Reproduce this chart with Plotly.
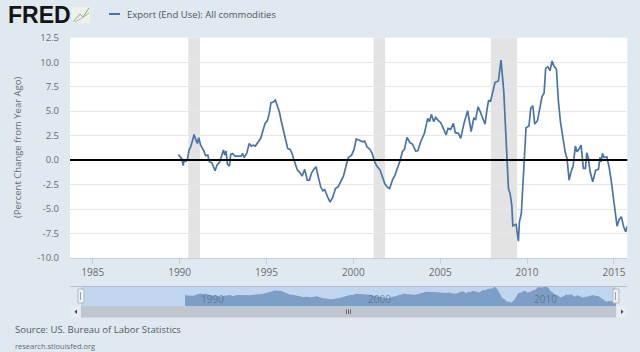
import plotly.graph_objects as go

W, H = 640, 352
BG = "#e1e9f0"
LINE = "#4a74a6"
TEXT = "#666b70"
SANS = "Open Sans, Noto Sans, sans-serif"

years = [
    1989.93, 1990.02, 1990.14, 1990.20, 1990.27, 1990.37, 1990.45, 1990.54, 1990.64, 1990.75, 1990.83, 1990.94,
    1991.02, 1991.10, 1991.21, 1991.37, 1991.50, 1991.62, 1991.71, 1991.85, 1991.94, 1992.04, 1992.15, 1992.29,
    1992.42, 1992.52, 1992.60, 1992.67, 1992.75, 1992.87, 1992.94, 1993.05, 1993.19, 1993.38, 1993.54, 1993.63,
    1993.71, 1993.86, 1994.01, 1994.13, 1994.24, 1994.36, 1994.53, 1994.67, 1994.78, 1994.92, 1995.05, 1995.16,
    1995.26, 1995.40, 1995.51, 1995.63, 1995.74, 1995.86, 1995.97, 1996.11, 1996.22, 1996.36, 1996.47, 1996.57,
    1996.66, 1996.78, 1996.93, 1997.05, 1997.20, 1997.35, 1997.47, 1997.60, 1997.72, 1997.85, 1997.99, 1998.12,
    1998.24, 1998.35, 1998.50, 1998.66, 1998.81, 1998.97, 1999.12, 1999.27, 1999.43, 1999.58, 1999.71, 1999.90,
    2000.04, 2000.17, 2000.35, 2000.54, 2000.65, 2000.79, 2000.96, 2001.08, 2001.23, 2001.35, 2001.54, 2001.67,
    2001.82, 2001.98, 2002.09, 2002.25, 2002.40, 2002.53, 2002.69, 2002.82, 2002.94, 2003.09, 2003.26, 2003.40,
    2003.59, 2003.71, 2003.88, 2004.09, 2004.28, 2004.38, 2004.49, 2004.63, 2004.74, 2004.90, 2005.03, 2005.18,
    2005.34, 2005.45, 2005.60, 2005.76, 2005.87, 2006.05, 2006.18, 2006.37, 2006.58, 2006.78, 2006.93, 2007.04,
    2007.18, 2007.29, 2007.58, 2007.72, 2007.79, 2007.89, 2008.02, 2008.16, 2008.35, 2008.50, 2008.66, 2008.75,
    2008.83, 2008.93, 2009.02, 2009.12, 2009.18, 2009.37, 2009.50, 2009.56, 2009.67, 2009.79, 2009.87, 2009.94,
    2010.11, 2010.21, 2010.33, 2010.44, 2010.60, 2010.75, 2010.86, 2010.98, 2011.07, 2011.19, 2011.32, 2011.44,
    2011.55, 2011.69, 2011.80, 2011.92, 2012.09, 2012.19, 2012.30, 2012.42, 2012.53, 2012.65, 2012.78, 2012.88,
    2013.01, 2013.11, 2013.24, 2013.36, 2013.44, 2013.53, 2013.63, 2013.78, 2013.95, 2014.11, 2014.20, 2014.26,
    2014.34, 2014.43, 2014.59, 2014.72, 2014.84, 2014.95, 2015.07, 2015.18, 2015.30, 2015.43, 2015.56, 2015.68,
    2015.76,
]
values = [
    0.58, 0.34, 0.07, -0.55, -0.03, -0.14, 0.07, 1.02, 1.36, 2.04, 2.62, 2.04,
    1.70, 2.28, 1.53, 1.02, 0.44, 0.51, -0.17, -0.27, -0.61, -1.09, -0.51, -0.24,
    0.44, 1.02, 0.51, 0.92, -0.41, -0.61, 0.58, 0.68, 0.41, 0.41, 0.41, 0.68,
    0.27, 0.68, 1.70, 1.43, 1.53, 1.43, 1.87, 2.22, 2.90, 3.75, 4.02, 4.77,
    5.86, 5.93, 6.13, 5.52, 4.94, 3.92, 3.07, 2.04, 1.19, 1.09, 0.68, 0.07,
    -0.51, -1.02, -1.30, -1.64, -0.95, -2.04, -2.04, -1.30, -0.95, -0.68, -1.77, -2.73,
    -3.14, -3.00, -3.68, -4.29, -3.82, -2.90, -2.73, -2.22, -1.64, -0.61, 0.27, 0.51,
    1.09, 2.15, 2.04, 1.87, 1.94, 1.36, 1.09, 0.68, -0.17, -0.61, -1.02, -1.77,
    -2.45, -2.80, -2.90, -2.04, -1.53, -0.85, -0.07, 0.85, 1.09, 2.32, 1.77, 1.64,
    0.92, 0.95, 1.87, 2.73, 4.26, 3.92, 4.67, 3.92, 4.36, 4.02, 3.82, 3.24,
    2.56, 3.24, 3.14, 3.75, 2.80, 2.73, 2.22, 3.75, 5.04, 2.90, 4.26, 4.16,
    5.45, 5.00, 3.68, 5.45, 6.13, 5.96, 6.82, 7.94, 8.08, 10.22, 6.99, 3.41,
    0.00, -2.90, -3.41, -4.60, -6.71, -6.58, -8.28, -6.31, -5.45, -1.36, 1.02, 3.31,
    3.48, 5.28, 5.56, 3.68, 4.02, 5.62, 6.48, 6.82, 9.37, 9.54, 9.13, 10.12,
    9.61, 9.30, 6.13, 3.92, 1.70, 0.85, 0.17, -2.04, -1.19, -0.61, 1.43, 0.85,
    1.19, 1.53, -0.85, -0.85, 0.75, 0.17, -1.19, -2.22, -1.02, -0.95, 0.27, -0.17,
    0.68, 0.27, 0.34, -0.68, -2.04, -3.75, -5.45, -6.75, -6.07, -5.79, -6.82, -7.33,
    -6.75,
]
recession_start = [1990.5, 2001.17, 2007.92]
recession_end = [1991.17, 2001.83, 2009.42]
x_ticks = [1985, 1990, 1995, 2000, 2005, 2010, 2015]
y_ticks = [12.5, 10.0, 7.5, 5.0, 2.5, 0.0, -2.5, -5.0, -7.5, -10.0]
nav_labels = [1990, 2000, 2010]
series_name = "Export (End Use): All commodities"
y_title = "(Percent Change from Year Ago)"
source = "Source: US. Bureau of Labor Statistics"
site = "research.stlouisfed.org"

x_range = [1983.69, 2015.77]
nav_floor = -11.0
nav_top = 10.4


def px(x):
    return x / W


def py(y):
    return 1 - y / H


def rect(x0, y0, x1, y1, fill, line=None, layer="above"):
    return dict(type="rect", xref="paper", yref="paper", x0=px(x0), x1=px(x1), y0=py(y1), y1=py(y0),
                fillcolor=fill, line=dict(color=line or fill, width=1 if line else 0), layer=layer)


def seg(x0, y0, x1, y1, color, width=1):
    return dict(type="line", xref="paper", yref="paper", x0=px(x0), x1=px(x1), y0=py(y0), y1=py(y1),
                line=dict(color=color, width=width), layer="above")


fig = go.Figure()
fig.add_trace(go.Scatter(x=years, y=values, mode="lines", line=dict(color=LINE, width=1.7),
                         showlegend=False, xaxis="x", yaxis="y"))
fig.add_trace(go.Scatter(x=[years[0], years[-1]], y=[nav_floor, nav_floor], mode="lines",
                         line=dict(width=0), showlegend=False, xaxis="x2", yaxis="y2"))
fig.add_trace(go.Scatter(x=years, y=values, mode="lines", fill="tonexty", fillcolor="rgba(69,114,167,0.55)",
                         line=dict(color="#7a9ac2", width=1), showlegend=False, xaxis="x2", yaxis="y2"))

shapes = []
for a, b in zip(recession_start, recession_end):
    shapes.append(dict(type="rect", xref="x", yref="y domain", x0=a, x1=b, y0=0, y1=1,
                       fillcolor="#e3e3e3", line=dict(width=0), layer="below"))
shapes.append(dict(type="line", xref="x domain", yref="y", x0=0, x1=1, y0=0, y1=0,
                   line=dict(color="#000000", width=2), layer="above"))

# navigator chrome
shapes += [
    rect(81, 287, 616, 306, "#c0d6ee", layer="below"),
    seg(70, 286.5, 627, 286.5, "#b4bec8", 1),
    rect(81, 306, 616, 317.5, "#bfc6ce"),
    rect(71, 306, 80, 317.5, "#e9edf1"),
    rect(617, 306, 627, 317.5, "#e9edf1"),
    dict(type="path", xref="paper", yref="paper", line=dict(width=0), fillcolor="#444444",
         path=f"M {px(77)} {py(309.5)} L {px(77)} {py(314)} L {px(74.5)} {py(311.8)} Z"),
    dict(type="path", xref="paper", yref="paper", line=dict(width=0), fillcolor="#444444",
         path=f"M {px(621)} {py(309.5)} L {px(621)} {py(314)} L {px(623.5)} {py(311.8)} Z"),
    seg(346.5, 309.5, 346.5, 314, "#666666"),
    seg(348.5, 309.5, 348.5, 314, "#666666"),
    seg(350.5, 309.5, 350.5, 314, "#666666"),
    rect(78, 289, 84, 303, "#eef1f4", "#b0b8c0"),
    rect(613, 289, 619, 303, "#eef1f4", "#b0b8c0"),
    seg(80.5, 292, 80.5, 300, "#9aa3ac"),
    seg(615.5, 292, 615.5, 300, "#9aa3ac"),
    # legend key
    seg(109, 14, 120, 14, LINE, 2),
    # logo glyph
    rect(72, 7, 90, 23, "#eef0ea", layer="above"),
    seg(73, 22, 80, 14, "#8fa58a", 1),
    seg(80, 14, 83, 17, "#8fa58a", 1),
    seg(83, 17, 89, 8, "#8fa58a", 1),
    seg(75, 22, 82, 18, "#a9b7a2", 1),
    seg(82, 18, 89, 13, "#a9b7a2", 1),
]

annotations = [
    dict(text="<b>FRED</b>", x=px(6), y=py(15), xanchor="left", yanchor="middle",
         font=dict(family="Liberation Sans, Arial, sans-serif", size=23, color="#151515")),
    dict(text=series_name, x=px(125), y=py(14.5), xanchor="left", yanchor="middle",
         font=dict(family=SANS, size=9.5, color="#4a5560")),
    dict(text=y_title, x=px(17), y=py(148), xanchor="center", yanchor="middle", textangle=-90,
         font=dict(family=SANS, size=9.5, color=TEXT)),
    dict(text=source, x=px(13), y=py(329), xanchor="left", yanchor="middle",
         font=dict(family=SANS, size=9.5, color="#4f5a64")),
    dict(text=site, x=px(13), y=py(346), xanchor="left", yanchor="middle",
         font=dict(family=SANS, size=7.5, color="#5f6870")),
]
for yr in nav_labels:
    annotations.append(dict(text=str(yr), x=yr + 0.75, y=py(298.5), xref="x2", yref="paper",
                            xanchor="left", yanchor="middle",
                            font=dict(family=SANS, size=10, color="rgba(70,90,115,0.6)")))
for a in annotations:
    a.setdefault("xref", "paper")
    a.setdefault("yref", "paper")
    a["showarrow"] = False

fig.update_layout(
    width=W, height=H, margin=dict(l=0, r=0, t=0, b=0, pad=0, autoexpand=False),
    paper_bgcolor=BG, plot_bgcolor="#ffffff", showlegend=False, hovermode=False,
    shapes=shapes, annotations=annotations,
    xaxis=dict(domain=[px(70), px(627.3)], range=x_range, tickvals=x_ticks, ticktext=[str(t) for t in x_ticks],
               ticks="outside", ticklen=5, tickcolor="#c0d0e0", showgrid=False, showline=True,
               linecolor="#c0d0e0", linewidth=1, zeroline=False,
               tickfont=dict(family=SANS, size=10, color=TEXT), anchor="y"),
    yaxis=dict(domain=[py(258), py(37.7)], range=[-10, 12.5], tickvals=y_ticks,
               ticktext=[f"{t:.1f}" for t in y_ticks], showgrid=True, gridcolor="#e6e6e6", gridwidth=1,
               zeroline=False, showline=False, ticks="", ticklabelstandoff=10,
               tickfont=dict(family=SANS, size=9.5, color=TEXT), anchor="x"),
    xaxis2=dict(domain=[px(81), px(616)], range=x_range, visible=False, anchor="y2"),
    yaxis2=dict(domain=[py(306), py(287)], range=[nav_floor, nav_top], visible=False, anchor="x2"),
)

fig.write_html("out.html", config=dict(displayModeBar=False),
               post_script="document.body.style.margin='0';document.body.style.overflow='hidden';")
